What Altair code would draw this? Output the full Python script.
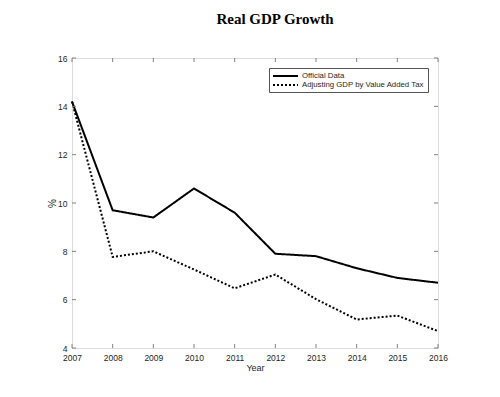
import altair as alt
import pandas as pd

years = [2007, 2008, 2009, 2010, 2011, 2012, 2013, 2014, 2015, 2016]
official = [14.2, 9.7, 9.4, 10.6, 9.6, 7.9, 7.8, 7.3, 6.9, 6.7]
adjusted = [14.2, 7.77, 8.0, 7.25, 6.47, 7.04, 6.02, 5.18, 5.34, 4.7]
series_names = ["Official Data", "Adjusting GDP by Value Added Tax"]
y_ticks = [4, 6, 8, 10, 12, 14, 16]

W, H = 366, 290
GRAY = "#808080"
TXT = "#262626"
FONT = "Liberation Sans"

rows = []
for yr, a, b in zip(years, official, adjusted):
    rows.append({"Year": yr, "value": a, "series": series_names[0]})
    rows.append({"Year": yr, "value": b, "series": series_names[1]})
df = pd.DataFrame(rows)

xscale = alt.Scale(domain=[2007, 2016], nice=False, zero=False)
yscale = alt.Scale(domain=[4, 16], nice=False, zero=False)

lines = alt.Chart(df).mark_line(strokeWidth=2, color="black").encode(
    x=alt.X("Year:Q", scale=xscale,
            axis=alt.Axis(values=years, format="d", title="Year", grid=False,
                          domain=False, ticks=False, labelPadding=5,
                          labelFlush=False, labelOverlap=False,
                          labelFontSize=8.5, labelColor=TXT, labelFont=FONT,
                          titleFont=FONT, titleFontSize=9, titleFontWeight="normal",
                          titleColor=TXT, titlePadding=2)),
    y=alt.Y("value:Q", scale=yscale,
            axis=alt.Axis(values=y_ticks, title="%", grid=False, domain=False,
                          ticks=False, labelPadding=5, labelFontSize=8.5,
                          labelFlush=False, labelOverlap=False,
                          labelColor=TXT, labelFont=FONT, titleFont=FONT,
                          titleFontSize=10, titleFontWeight="normal",
                          titleColor=TXT, titlePadding=0)),
    strokeDash=alt.StrokeDash("series:N",
        scale=alt.Scale(domain=series_names, range=[[1, 0], [2, 2]]),
        legend=alt.Legend(title=None, orient="top-right", offset=10,
                          symbolType="M-1,0H5.25", symbolSize=64, symbolStrokeWidth=2,
                          symbolStrokeColor="black", symbolFillColor="transparent",
                          labelFont=FONT,
                          labelFontSize=7.8, labelColor=TXT, rowPadding=0,
                          padding=3, strokeColor="#555555", fillColor="white",
                          labelOffset=20)),
    detail="series:N",
)

xt = pd.DataFrame({"Year": years})
yt = pd.DataFrame({"v": y_ticks})

bottom = alt.Chart(xt).mark_rule(color=GRAY, strokeWidth=1).encode(
    x=alt.X("Year:Q", scale=xscale), y=alt.value(H), y2=alt.value(H - 4))
top = alt.Chart(xt).mark_rule(color=GRAY, strokeWidth=1).encode(
    x=alt.X("Year:Q", scale=xscale), y=alt.value(0), y2=alt.value(4))
left = alt.Chart(yt).mark_rule(color=GRAY, strokeWidth=1).encode(
    y=alt.Y("v:Q", scale=yscale), x=alt.value(0), x2=alt.value(4))
right = alt.Chart(yt).mark_rule(color=GRAY, strokeWidth=1).encode(
    y=alt.Y("v:Q", scale=yscale), x=alt.value(W), x2=alt.value(W - 4))

chart = alt.layer(lines, bottom, top, left, right).properties(
    width=W, height=H,
    title=alt.TitleParams("Real GDP Growth", font="Liberation Serif", fontSize=15,
                          fontWeight="bold", color="black", offset=27, dx=20),
    padding={"left": 39, "top": 4, "right": 10, "bottom": 5},
).configure_view(stroke=GRAY, strokeWidth=1).configure(background="white")

chart.save("out.html", embed_options={"renderer": "svg", "actions": False})
